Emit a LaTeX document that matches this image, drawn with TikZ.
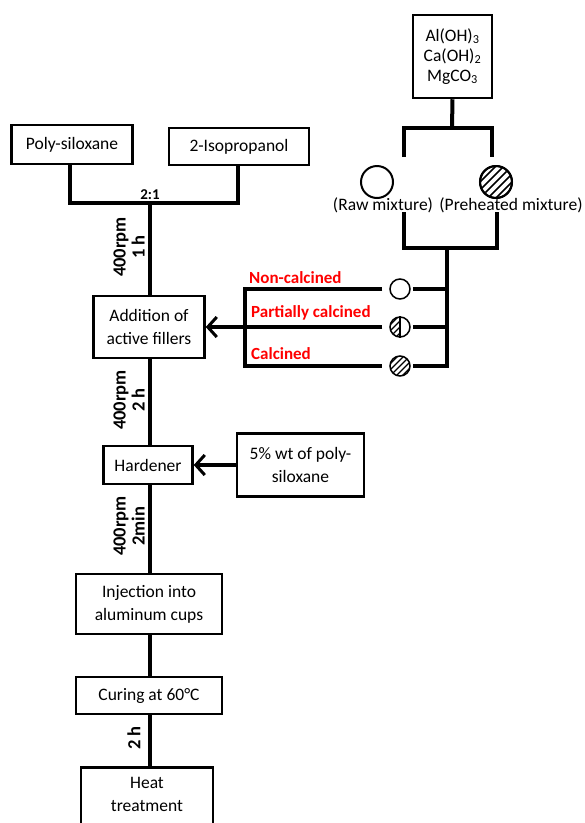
\documentclass[tikz,border=0pt]{standalone}
\usepackage{fontspec}
\setmainfont{Carlito}
\usetikzlibrary{arrows.meta}
\begin{document}
\begin{tikzpicture}[x=1pt,y=-1pt,
  box/.style={draw,line width=2.5pt,inner sep=0pt,align=center,font=\fontsize{17.5}{23}\selectfont},
  conn/.style={line width=4pt},
  vlbl/.style={font=\bfseries\fontsize{18.5}{19}\selectfont,rotate=90,align=center,inner sep=0pt},
  redlbl/.style={text=red,font=\bfseries\fontsize{17}{18}\selectfont,anchor=west,inner sep=0pt},
  dot/.style={draw,circle,line width=1.5pt,inner sep=0pt,minimum size=20pt},
  bigdot/.style={draw,circle,line width=2pt,inner sep=0pt,minimum size=32pt},
  arr/.style={conn,-{Straight Barb[length=9pt,width=20pt,line width=3pt]}},
  hatch/.style={line width=1.6pt}
]
\useasboundingbox (0,0) rectangle (585,823);
\clip (0,0) rectangle (585,823);

% boxes
\node[box,minimum width=121pt,minimum height=39pt] (poly) at (72,144.5) {Poly-siloxane};
\node[box,minimum width=140pt,minimum height=37pt] (iso) at (239,146.5) {2-Isopropanol};
\node[box,minimum width=79pt,minimum height=83pt,font=\fontsize{17.5}{20}\selectfont] (top) at (452.5,56.5) {Al(OH)\textsubscript{3}\\Ca(OH)\textsubscript{2}\\MgCO\textsubscript{3}};
\node[box,minimum width=111pt,minimum height=62pt] (add) at (149,327) {Addition of\\active fillers};
\node[box,minimum width=89pt,minimum height=38pt] (hard) at (148,465) {Hardener};
\node[box,minimum width=127pt,minimum height=63pt] (five) at (300.5,465) {5\% wt of poly-\\siloxane};
\node[box,minimum width=146pt,minimum height=60pt] (inj) at (149,604) {Injection into\\aluminum cups};
\node[box,minimum width=146pt,minimum height=37pt] (cur) at (149,695.5) {Curing at 60°C};
\node[box,minimum width=132pt,minimum height=66pt,anchor=north] (heat) at (147,766) {\\[-24pt]Heat\\treatment};

% top-left merge
\coordinate (j) at (150,203);
\draw[conn] (poly.south -| 70,0) -- (70,203) -- (238,203) -- (iso.south -| 238,0);
\draw[conn] (j) -- (add.north -| j);
\node[font=\bfseries\fontsize{15}{16}\selectfont,inner sep=0pt] (ratio) at (150,195) {2:1};

% vertical flow
\draw[conn] (add.south -| 150,0) -- (hard.north -| 150,0);
\draw[conn] (hard.south -| 150,0) -- (inj.north -| 150,0);
\draw[conn] (inj.south -| 150,0) -- (cur.north -| 150,0);
\draw[conn] (cur.south -| 150,0) -- (heat.north -| 150,0);

% rotated labels
\node[vlbl] (l1) at (129,247) {400rpm\\1 h};
\node[vlbl] (l2) at (129,400) {400rpm\\2 h};
\node[vlbl] (l3) at (129,526) {400rpm\\2min};
\node[vlbl] (l4) at (134,738) {2 h};

% hardener input
\draw[arr] (five.west) -- (hard.east);

% raw materials
\node[bigdot] (raw) at (377,182) {};
\node[bigdot] (pre) at (496,182) {};
\begin{scope}
  \clip (pre) circle (15pt);
  \foreach \s in {-32,-24,...,32} \draw[hatch] ([shift={(\s,0)}]pre.center) ++(-20,20) -- ++(40,-40);
\end{scope}
\draw[line width=2pt] (pre) circle (16pt);
\node[font=\fontsize{17.5}{18}\selectfont,inner sep=0pt] (rawl) at (383,205) {(Raw mixture)};
\node[font=\fontsize{17.5}{18}\selectfont,inner sep=0pt] (prel) at (511,205) {(Preheated mixture)};

\draw[conn] (top.south) -- (452,128);
\draw[conn] (404,157) -- (404,128) -- (492,128) -- (492,157);
\coordinate (rb) at (447,248);
\draw[conn] (404,212) -- (404,248) -- (497,248) -- (497,212);

% calcination states
\node[dot] (nc) at (400,289) {};
\node[dot] (pc) at (400,327) {};
\node[dot] (cc) at (400,366) {};
\begin{scope}
  \clip (pc) circle (9.5pt);
  \clip (390,316) rectangle (400,338);
  \foreach \s in {-24,-18,...,24} \draw[line width=1.2pt] ([shift={(\s,0)}]pc.center) ++(-15,15) -- ++(30,-30);
\end{scope}
\draw[line width=1.5pt] (pc.north) -- (pc.south);
\begin{scope}
  \clip (cc) circle (9.5pt);
  \foreach \s in {-24,-18,...,24} \draw[line width=1.2pt] ([shift={(\s,0)}]cc.center) ++(-15,15) -- ++(30,-30);
\end{scope}

\coordinate (bt) at (245,289);
\coordinate (bb) at (245,366);
\draw[conn] ([xshift=-7pt]nc.west) -- (bt) -- (bb) -- ([xshift=-7pt]cc.west);
\draw[arr] ([xshift=-7pt]pc.west) -- (add.east);
\draw[conn] (rb) -- (rb |- cc) -- ([xshift=2pt]cc.east);
\draw[conn] ([xshift=2pt]nc.east) -- (nc -| rb);
\draw[conn] ([xshift=2pt]pc.east) -- (pc -| rb);

\node[redlbl] (t1) at (249,278) {Non-calcined};
\node[redlbl] (t2) at (251,313) {Partially calcined};
\node[redlbl] (t3) at (251,354) {Calcined};
\end{tikzpicture}
\end{document}
